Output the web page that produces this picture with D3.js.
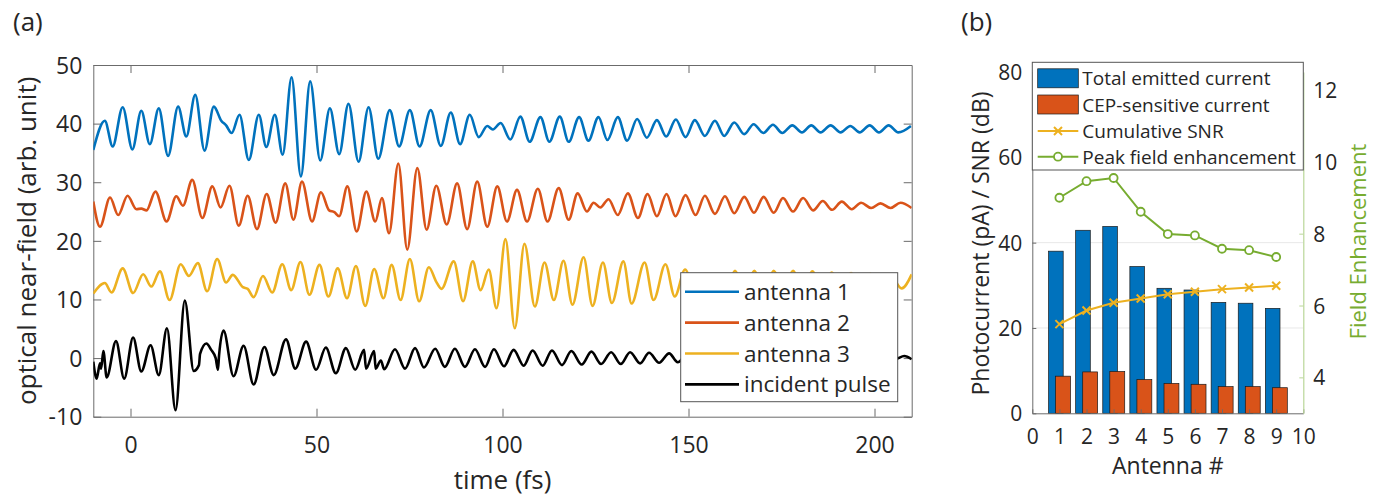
<!DOCTYPE html>
<html><head><meta charset="utf-8">
<script src="https://cdn.jsdelivr.net/npm/d3@7"></script>
<style>
body{margin:0;background:#fff}
svg{display:block}
text{font-family:"Open Sans",sans-serif;fill:#262626}
</style>
</head><body>
<svg id="c" width="1387" height="500"></svg>
<script>
// ---------------- data: panel (a) ----------------
const timeTicks = [0, 50, 100, 150, 200];
const fieldTicks = [-10, 0, 10, 20, 30, 40, 50];
const traceLabels = ["antenna 1", "antenna 2", "antenna 3", "incident pulse"];
const traceColors = ["#0072BD", "#D95319", "#EDB120", "#000000"];

// [time (fs), field] at extrema
const antenna1 = [[-10,35.5],[-6.9,40.5],[-4.8,36.1],[-2.1,42.8],[0.5,35.6],[2.9,42.2],[5.2,36.5],[7.6,42.6],[10.1,34.5],[12.8,42.9],[15.0,37.8],[17.4,44.9],[19.9,35.4],[22.4,42.9],[24.4,40.5],[25.7,39.7],[27.2,38.4],[29.3,41.5],[31.8,33.8],[34.5,41.5],[36.5,36.0],[38.8,41.5],[40.9,34.7],[43.3,47.9],[45.8,31.0],[48.3,47.2],[51.0,33.7],[53.6,42.6],[56.1,34.8],[58.6,43.4],[61.3,33.5],[64.0,42.8],[66.6,34.0],[69.7,42.3],[72.2,36.1],[75.1,42.3],[77.7,36.1],[80.7,42.3],[83.4,36.2],[86.1,41.9],[88.6,36.5],[91.2,41.5],[93.6,37.7],[95.9,39.6],[97.4,39.0],[99.5,40.1],[102.1,37.3],[104.8,41.2],[107.3,36.9],[110.2,41.1],[112.6,36.9],[115.4,41.2],[117.8,36.9],[120.6,41.1],[123.1,37.1],[125.8,41.1],[128.2,37.2],[131.0,41.1],[133.5,37.1],[136.2,40.8],[138.8,37.6],[141.5,40.6],[144.0,37.8],[146.6,40.7],[149.2,37.7],[151.7,40.6],[154.4,37.9],[157.1,40.5],[159.6,37.9],[162.3,40.2],[165.0,38.2],[167.5,39.9],[170.1,38.4],[172.7,39.8],[175.2,38.4],[177.9,39.7],[180.5,38.5],[183.0,39.7],[185.5,38.5],[188.2,39.7],[190.9,38.5],[193.5,39.6],[196.0,38.5],[198.7,39.7],[201.2,38.5],[203.8,39.7],[206.4,38.5],[209.8,39.6]];

const antenna2 = [[-10,26.7],[-8.2,22.4],[-5.5,27.4],[-3.3,24.4],[-0.8,27.7],[1.6,25.4],[2.9,25.5],[4.3,25.2],[6.7,28.4],[9.7,23.3],[12.3,27.6],[14.1,26.0],[16.6,30.4],[19.3,23.9],[22.0,29.3],[24.2,25.7],[26.6,29.4],[29.1,22.6],[31.5,27.7],[34.0,22.0],[36.6,28.0],[39.0,23.1],[41.6,29.8],[43.8,23.6],[46.1,30.1],[48.8,23.3],[51.2,28.3],[53.4,25.2],[54.8,24.9],[56.1,24.2],[58.3,29.3],[60.8,21.6],[63.4,28.4],[65.8,23.3],[67.6,27.3],[69.5,21.3],[72.0,33.2],[74.4,18.5],[77.1,32.4],[79.6,21.9],[82.2,29.4],[85.0,22.8],[87.8,29.8],[90.5,22.0],[93.2,30.1],[95.9,22.4],[98.6,29.3],[101.2,23.3],[103.9,28.7],[106.6,23.3],[109.5,28.9],[112.1,23.3],[115.1,29.0],[117.8,23.6],[120.2,28.1],[122.7,25.0],[124.5,26.5],[126.3,25.7],[128.5,27.1],[131.0,24.4],[133.7,28.1],[136.4,23.9],[139.0,28.0],[141.5,24.2],[144.1,28.0],[146.5,24.2],[149.2,27.8],[151.9,24.4],[154.4,27.7],[157.1,24.6],[159.8,27.6],[162.3,24.7],[165.0,27.5],[167.6,24.8],[170.2,27.5],[172.9,24.8],[175.4,27.3],[178.1,25.0],[180.8,27.3],[183.5,25.2],[186.1,26.8],[188.6,25.3],[191.2,26.7],[193.9,25.4],[196.4,26.5],[199.1,25.6],[201.6,26.4],[204.3,25.6],[207.0,26.5],[210,25.6]];

const antenna3 = [[-10,11.0],[-6.9,12.8],[-5.1,11.2],[-2.1,15.3],[0.7,11.1],[3.4,14.3],[5.6,12.2],[7.9,14.8],[10.5,9.9],[13.5,16.0],[15.7,14.0],[18.1,16.2],[20.6,11.4],[23.3,16.9],[25.7,12.9],[27.5,14.2],[30.2,12.1],[31.5,11.8],[33.1,10.4],[35.6,14.0],[38.1,11.2],[40.8,16.0],[43.2,11.6],[45.7,16.4],[48.1,10.8],[50.8,15.9],[53.2,10.5],[55.7,15.3],[58.2,10.2],[60.6,15.7],[63.1,8.9],[65.5,15.2],[68.0,10.2],[70.2,15.9],[72.6,9.9],[75.1,16.9],[77.6,9.7],[80.2,15.5],[82.2,13.0],[83.6,11.8],[86.9,16.5],[89.4,9.7],[92.0,16.5],[94.1,11.6],[96.3,15.1],[98.4,8.5],[100.8,20.3],[103.3,5.1],[105.9,19.5],[108.7,8.8],[111.3,16.3],[113.8,9.9],[116.4,16.6],[118.8,9.1],[121.8,17.2],[124.2,8.9],[127.0,16.3],[129.4,9.4],[132.5,16.5],[134.7,9.3],[138.2,16.3],[140.6,9.9],[143.8,16.0],[146.3,10.5],[149.1,15.1],[151.8,10.8],[154.6,14.0],[157.2,11.2],[158.8,12.4],[160.0,11.5],[162.5,14.9],[165.1,11.5],[167.7,14.9],[170.3,11.6],[172.9,14.9],[175.5,11.7],[178.1,14.9],[180.7,11.8],[183.3,14.8],[185.9,11.9],[188.5,14.6],[191.1,12.0],[193.7,14.5],[196.3,12.0],[198.9,14.4],[201.5,12.0],[204.1,14.3],[207.3,11.9],[210,14.3]];

const incidentPulse = [[-10,-0.6],[-9.1,-3.5],[-8.2,-0.9],[-7.9,-1.8],[-7.3,1.2],[-6.4,-3.3],[-3.9,2.9],[-1.7,-3.5],[0.7,3.5],[2.9,-2.3],[5.4,2.2],[7.6,-2.9],[9.8,5.1],[12.1,-8.9],[14.6,9.8],[17.0,-2.2],[18.4,-1.2],[18.7,0.7],[20.4,2.5],[21.7,1.4],[22.9,0.0],[23.5,-2.0],[23.8,0.4],[25.0,4.7],[27.7,-3.1],[30.4,2.1],[33.1,-4.5],[36.0,1.9],[38.5,-2.9],[41.8,3.2],[44.3,-1.8],[47.2,2.8],[49.9,-2.0],[52.5,1.8],[55.2,-2.6],[57.9,1.7],[60.4,-2.0],[62.8,1.4],[63.3,-1.8],[65.5,1.2],[65.9,-1.8],[67.3,-0.4],[68.2,-1.9],[71.1,1.5],[73.8,-1.8],[76.5,1.7],[78.9,-1.6],[81.9,1.6],[84.5,-1.5],[87.2,1.6],[89.9,-1.5],[92.6,1.5],[95.3,-1.5],[97.7,1.5],[100.4,-1.4],[103.0,1.4],[105.7,-1.3],[108.1,1.3],[110.8,-1.3],[113.3,1.3],[116.0,-1.2],[118.5,1.2],[121.3,-1.1],[123.9,1.1],[126.5,-1.0],[129.2,1.0],[131.8,-1.0],[134.3,1.0],[137.0,-0.9],[139.4,0.9],[142.1,-0.8],[144.8,0.8],[147.1,-0.7],[149.9,0.7],[152.5,-0.6],[155.2,0.6],[157.8,-0.6],[160.5,0.6],[163.1,-0.5],[165.8,0.5],[168.4,-0.5],[171.1,0.5],[173.7,-0.4],[176.4,0.4],[179.0,-0.4],[181.7,0.4],[184.3,-0.4],[187.0,0.4],[189.6,-0.3],[192.3,0.3],[194.9,-0.3],[197.6,0.3],[200.2,-0.3],[202.9,0.3],[205.5,-0.2],[208.0,0.35],[210,-0.2]];

// ---------------- data: panel (b) ----------------
const antennaNum = [1, 2, 3, 4, 5, 6, 7, 8, 9];
const antennaTicks = [0, 1, 2, 3, 4, 5, 6, 7, 8, 9, 10];
const currentTicks = [0, 20, 40, 60, 80];
const enhancementTicks = [4, 6, 8, 10, 12];
const totalCurrent = [38.0, 42.9, 43.8, 34.4, 29.3, 28.9, 26.0, 25.8, 24.6];
const cepCurrent = [8.7, 9.7, 9.8, 7.9, 7.0, 6.8, 6.25, 6.25, 6.0];
const cumulativeSNR = [20.9, 24.1, 25.9, 26.9, 27.9, 28.5, 29.1, 29.5, 29.9];
const peakEnhancement = [9.0, 9.46, 9.55, 8.61, 7.99, 7.95, 7.58, 7.54, 7.35];
const legendB = ["Total emitted current", "CEP-sensitive current", "Cumulative SNR", "Peak field enhancement"];

const C = {blue:"#0072BD", orange:"#D95319", yellow:"#EDB120", green:"#77AC30", axis:"#6b6b6b", text:"#262626"};
const svg = d3.select("#c");
const plainFmt = d => String(d);

// ================= Panel (a) =================
const xA = d3.scaleLinear().domain([-10, 210]).range([93.3, 911.7]);
const yA = d3.scaleLinear().domain([-10, 50]).range([416.7, 65]);

svg.append("text").attr("x", 13).attr("y", 31).style("font-size", "26px").text("(a)");

svg.append("defs").append("clipPath").attr("id", "clipA")
  .append("rect").attr("x", xA(-10)).attr("y", yA(50)).attr("width", xA(210) - xA(-10)).attr("height", yA(-10) - yA(50));

function styleAxis(g, color) {
  g.select(".domain").attr("stroke", color).attr("stroke-width", 1);
  g.selectAll(".tick line").attr("stroke", color).attr("stroke-width", 1);
  g.selectAll("text").attr("fill", color === C.axis ? C.text : color);
}

const gA = svg.append("g");
gA.append("g").attr("transform", `translate(0,${yA(-10)})`)
  .call(d3.axisBottom(xA).tickValues(timeTicks).tickFormat(plainFmt).tickSizeInner(-8).tickSizeOuter(0))
  .call(g => { styleAxis(g, C.axis); g.selectAll("text").attr("dy", null).attr("y", 36).style("font-size", "23px"); });
gA.append("g").attr("transform", `translate(0,${yA(50)})`)
  .call(d3.axisTop(xA).tickValues(timeTicks).tickSizeInner(-8).tickSizeOuter(0).tickFormat(""))
  .call(g => styleAxis(g, C.axis));
gA.append("g").attr("transform", `translate(${xA(-10)},0)`)
  .call(d3.axisLeft(yA).tickValues(fieldTicks).tickFormat(plainFmt).tickSizeInner(-8).tickSizeOuter(0))
  .call(g => { styleAxis(g, C.axis); g.selectAll("text").attr("x", -11).attr("dy", "0.36em").style("font-size", "23px"); });
gA.append("g").attr("transform", `translate(${xA(210)},0)`)
  .call(d3.axisRight(yA).tickValues(fieldTicks).tickSizeInner(-8).tickSizeOuter(0).tickFormat(""))
  .call(g => styleAxis(g, C.axis));

const lineA = d3.line().x(d => xA(d[0])).y(d => yA(d[1])).curve(d3.curveMonotoneX);
const traces = [antenna1, antenna2, antenna3, incidentPulse];
svg.append("g").attr("clip-path", "url(#clipA)")
  .selectAll("path").data(traces).join("path")
  .attr("d", lineA).attr("fill", "none")
  .attr("stroke", (d, i) => traceColors[i]).attr("stroke-width", 2.6)
  .attr("stroke-linejoin", "round");

svg.append("text").attr("x", (xA(-10) + xA(210)) / 2).attr("y", 489)
  .attr("text-anchor", "middle").style("font-size", "26px").text("time (fs)");
svg.append("text").attr("transform", `translate(36,${(yA(-10) + yA(50)) / 2}) rotate(-90)`)
  .attr("text-anchor", "middle").style("font-size", "26px").text("optical near-field (arb. unit)");

// legend (a)
const legA = svg.append("g");
legA.append("rect").attr("x", 680.7).attr("y", 272.7).attr("width", 217).attr("height", 129)
  .attr("fill", "#fff").attr("stroke", "#555").attr("stroke-width", 1);
traceLabels.forEach((lab, i) => {
  const yy = 291.7 + i * 30.9;
  legA.append("line").attr("x1", 685).attr("x2", 739).attr("y1", yy).attr("y2", yy)
    .attr("stroke", traceColors[i]).attr("stroke-width", 2.6);
  legA.append("text").attr("x", 744).attr("y", yy + 8).style("font-size", "22.5px").text(lab);
});

// ================= Panel (b) =================
const xB = d3.scaleLinear().domain([0, 10]).range([1032.3, 1303.3]);
const yB = d3.scaleLinear().domain([0, 80]).range([413.3, 72]);
const yR = d3.scaleLinear().domain([3, 12.5]).range([413.3, 72]);

svg.append("text").attr("x", 961).attr("y", 31).style("font-size", "26px").text("(b)");

// grid
svg.append("g").selectAll("line").data(currentTicks.filter(v => v > 0)).join("line")
  .attr("x1", xB(0)).attr("x2", xB(10)).attr("y1", d => yB(d)).attr("y2", d => yB(d))
  .attr("stroke", "#e8e8e8").attr("stroke-width", 1);

// bars
svg.append("g").selectAll("rect").data(antennaNum).join("rect")
  .attr("x", (d) => xB(d - 0.4)).attr("width", xB(0.54) - xB(0))
  .attr("y", (d, i) => yB(totalCurrent[i])).attr("height", (d, i) => yB(0) - yB(totalCurrent[i]))
  .attr("fill", C.blue).attr("stroke", "#1a1a1a").attr("stroke-width", 0.7);
svg.append("g").selectAll("rect").data(antennaNum).join("rect")
  .attr("x", (d) => xB(d - 0.14)).attr("width", xB(0.55) - xB(0))
  .attr("y", (d, i) => yB(cepCurrent[i])).attr("height", (d, i) => yB(0) - yB(cepCurrent[i]))
  .attr("fill", C.orange).attr("stroke", "#1a1a1a").attr("stroke-width", 0.7);

// lines
const snrLine = d3.line().x((d, i) => xB(antennaNum[i])).y(d => yB(d));
svg.append("path").datum(cumulativeSNR).attr("d", snrLine).attr("fill", "none")
  .attr("stroke", C.yellow).attr("stroke-width", 2);
const xMark = "M-4,-4L4,4M-4,4L4,-4";
svg.append("g").selectAll("path").data(cumulativeSNR).join("path")
  .attr("transform", (d, i) => `translate(${xB(antennaNum[i])},${yB(d)})`)
  .attr("d", xMark).attr("stroke", C.yellow).attr("stroke-width", 2).attr("fill", "none");

const fieldLine = d3.line().x((d, i) => xB(antennaNum[i])).y(d => yR(d));
svg.append("path").datum(peakEnhancement).attr("d", fieldLine).attr("fill", "none")
  .attr("stroke", C.green).attr("stroke-width", 2);
svg.append("g").selectAll("circle").data(peakEnhancement).join("circle")
  .attr("cx", (d, i) => xB(antennaNum[i])).attr("cy", d => yR(d)).attr("r", 4)
  .attr("fill", "#fff").attr("stroke", C.green).attr("stroke-width", 1.8);

// axes (b)
svg.append("g").attr("transform", `translate(0,${yB(0)})`)
  .call(d3.axisBottom(xB).tickValues(antennaTicks).tickFormat(plainFmt).tickSizeInner(-4).tickSizeOuter(0))
  .call(g => { styleAxis(g, C.axis); g.selectAll("text").attr("dy", null).attr("y", 31).style("font-size", "21px"); });
svg.append("g").attr("transform", `translate(${xB(0)},0)`)
  .call(d3.axisLeft(yB).tickValues(currentTicks).tickFormat(plainFmt).tickSizeInner(-4).tickSizeOuter(0))
  .call(g => { styleAxis(g, C.axis); g.selectAll("text").attr("x", -10).attr("dy", "0.36em").style("font-size", "21px"); });
svg.append("g").attr("transform", `translate(${xB(10)},0)`)
  .call(d3.axisRight(yR).tickValues(enhancementTicks).tickFormat(plainFmt).tickSizeInner(-4).tickSizeOuter(0))
  .call(g => {
    g.select(".domain").attr("stroke", "#b9d698").attr("stroke-width", 1.2);
    g.selectAll(".tick line").attr("stroke", "#b9d698");
    g.selectAll("text").attr("x", 10).attr("dy", "0.36em").attr("fill", C.green).style("font-size", "21px");
  });

svg.append("text").attr("x", (xB(0) + xB(10)) / 2).attr("y", 474)
  .attr("text-anchor", "middle").style("font-size", "23px").text("Antenna #");
svg.append("text").attr("transform", `translate(989,243.5) rotate(-90)`)
  .attr("text-anchor", "middle").style("font-size", "23px").text("Photocurrent (pA) / SNR (dB)");
svg.append("text").attr("transform", `translate(1366,241.5) rotate(-90)`)
  .attr("text-anchor", "middle").style("font-size", "22px").style("fill", C.green).text("Field Enhancement");

// legend (b)
const legB = svg.append("g");
legB.append("rect").attr("x", 1032.3).attr("y", 62.3).attr("width", 271).attr("height", 107.7)
  .attr("fill", "#fff").attr("stroke", "#555").attr("stroke-width", 1);
const rowY = [78.3, 104.5, 131, 156.7];
[C.blue, C.orange].forEach((col, i) => {
  legB.append("rect").attr("x", 1037.7).attr("y", rowY[i] - 9.5).attr("width", 40.6).attr("height", 19)
    .attr("fill", col).attr("stroke", "#1a1a1a").attr("stroke-width", 0.7);
});
legB.append("line").attr("x1", 1037.7).attr("x2", 1078.3).attr("y1", rowY[2]).attr("y2", rowY[2])
  .attr("stroke", C.yellow).attr("stroke-width", 2);
legB.append("path").attr("transform", `translate(1058,${rowY[2]})`).attr("d", xMark)
  .attr("stroke", C.yellow).attr("stroke-width", 2);
legB.append("line").attr("x1", 1037.7).attr("x2", 1078.3).attr("y1", rowY[3]).attr("y2", rowY[3])
  .attr("stroke", C.green).attr("stroke-width", 2);
legB.append("circle").attr("cx", 1058).attr("cy", rowY[3]).attr("r", 4)
  .attr("fill", "#fff").attr("stroke", C.green).attr("stroke-width", 1.8);
legendB.forEach((lab, i) => {
  legB.append("text").attr("x", 1082.3).attr("y", rowY[i] + 7).style("font-size", "19px").text(lab);
});
</script>
</body></html>
